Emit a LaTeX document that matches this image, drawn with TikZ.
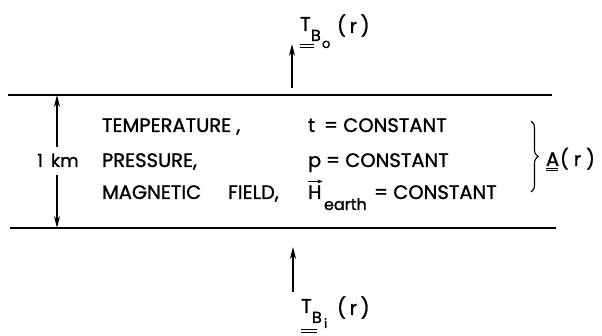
\documentclass[tikz,border=0pt]{standalone}
\usepackage{fontspec}
\setmainfont{Poppins}[FakeBold=1.2]
\usetikzlibrary{arrows.meta,decorations.pathreplacing}
\tikzset{
  txt/.style={inner sep=0pt, outer sep=0pt, anchor=base west, font=\fontsize{19.5}{22}\selectfont},
  kmtxt/.style={inner sep=0pt, outer sep=0pt, anchor=base, font=\fontsize{18}{22}\selectfont},
  lbltxt/.style={inner sep=0pt, outer sep=0pt, anchor=base west, font=\fontsize{20}{24}\selectfont},
  subtxt/.style={inner sep=0pt, outer sep=0pt, anchor=base west, font=\fontsize{16}{19}\selectfont},
  subsubtxt/.style={inner sep=0pt, outer sep=0pt, anchor=base west, font=\fontsize{13}{15}\selectfont},
  layer/.style={line width=1.8pt},
  arr/.style={line width=1.5pt, -{Stealth[length=12pt,width=6pt]}},
  uline/.style={line width=1pt},
}
\newcommand{\parr}{(\hspace{5pt}r\hspace{5pt})}
\newcommand{\parrs}{(\hspace{3.5pt}r\hspace{3.5pt})}
\begin{document}
\begin{tikzpicture}[x=1pt,y=-1pt]
\useasboundingbox (0,0) rectangle (602,336);
% layer boundaries
\coordinate (tl) at (8,95);  \coordinate (tr) at (552,95);
\coordinate (bl) at (10,228); \coordinate (br) at (556,228);
\draw[layer] (tl) -- (tr);
\draw[layer] (bl) -- (br);
% thickness dimension
\coordinate (dimtop) at (57,95);
\coordinate (dimbot) at (57,228);
\coordinate (dimup) at (57,147);
\coordinate (dimdn) at (57,175);
\node[kmtxt] (km) at (58,167) {1\, km};
\draw[arr] (dimup) -- (dimtop);
\draw[arr] (dimdn) -- (dimbot);
% left column
\node[txt] (temp) at (102,132) {TEMPERATURE ,};
\node[txt] (pres) at (102,167) {PRESSURE,};
\node[txt] (mag)  at (102,199) {MAGNETIC};
\node[txt] (field) at (228,199) {FIELD,};
% right column
\node[txt] (t) at (308,132) {t};
\node[txt] (tc) at (324,132) {= CONSTANT};
\node[txt] (p) at (308,167) {p};
\node[txt] (pc) at (326,167) {= CONSTANT};
\node[txt] (H) at (308,199) {H};
\node[subtxt] (earth) at (324,210) {earth};
\node[txt] (hc) at (374,199) {= CONSTANT};
\draw[line width=1pt, -{Stealth[length=5pt,width=4pt]}] ([yshift=4pt]H.north west) -- ([yshift=4pt,xshift=1pt]H.north east);
% brace
\coordinate (brtop) at (531,121);
\coordinate (brbot) at (531,192);
\draw[line width=1.1pt, decorate, decoration={brace, amplitude=7pt}] (brtop) -- (brbot);
\node[txt] (A) at (546,166) {A};
\node[txt] (Ar) at (560,166) {\parr};
\draw[uline] (A.base west) ++(0,2.5) -- ++(12,0);
\draw[uline] (A.base west) ++(0,5) -- ++(12,0);
% outgoing brightness temperature
\node[lbltxt] (To) at (300,31) {T};
\node[subtxt] (Bo) at (311,41) {B};
\node[subsubtxt] (o) at (322,48) {o};
\node[lbltxt] (ro) at (337,33) {\parrs};
\draw[uline] (300,45) -- (314,45);
\draw[uline] (300,48) -- (314,48);
\coordinate (aoTail) at (292,88);
\coordinate (aoHead) at (292,44);
\draw[arr] (aoTail) -- (aoHead);
% incoming brightness temperature
\node[lbltxt] (Ti) at (301,313) {T};
\node[subtxt] (Bi) at (312,323) {B};
\node[subsubtxt] (i) at (324,328) {i};
\node[lbltxt] (ri) at (337,315) {\parrs};
\draw[uline] (301,330) -- (317,330);
\draw[uline] (301,333) -- (317,333);
\coordinate (aiTail) at (293,292);
\coordinate (aiHead) at (293,247);
\draw[arr] (aiTail) -- (aiHead);
\end{tikzpicture}
\end{document}
